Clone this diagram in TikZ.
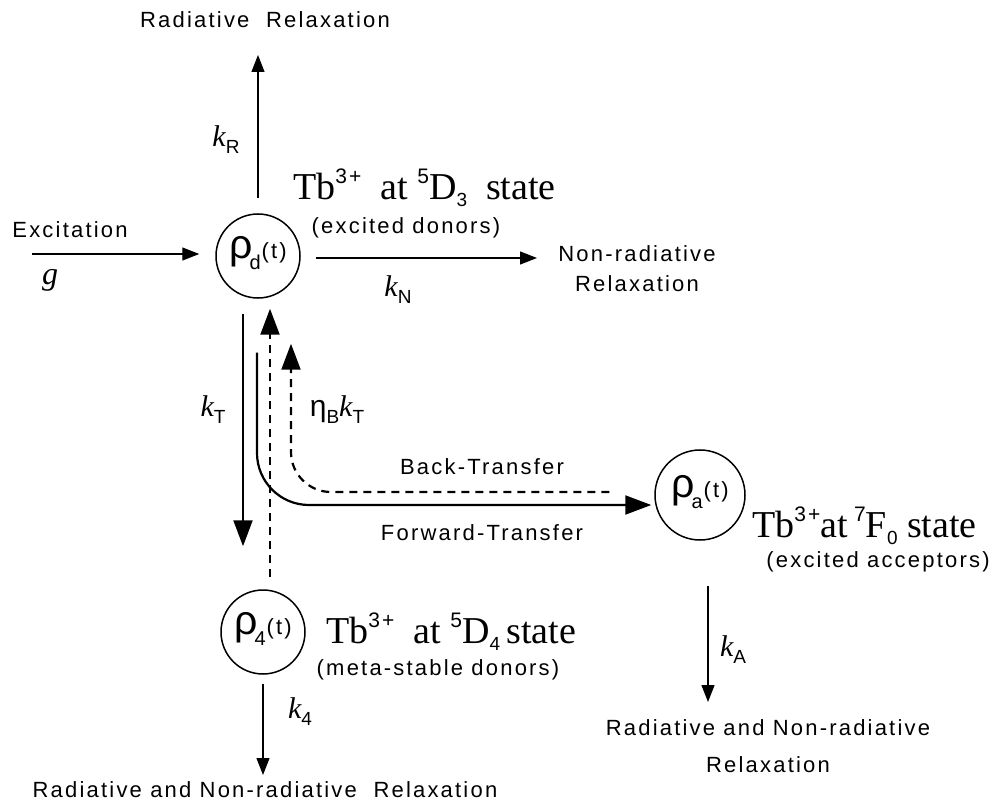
\documentclass[tikz,border=0pt]{standalone}
\usepackage{fontspec}
\setmainfont{Liberation Serif}
\newfontfamily\labfont[LetterSpace=10]{Liberation Sans}
\newfontfamily\scriptsans[LetterSpace=10]{Liberation Sans}
\newfontfamily\plainsans{Liberation Sans}
\usetikzlibrary{arrows.meta}
\newcommand\supx[1]{\raisebox{16pt}{\scriptsans\fontsize{21}{21}\selectfont #1}}
\newcommand\subx[1]{\raisebox{-7pt}{\scriptsans\fontsize{19}{19}\selectfont #1}}
\newcommand\ratek[1]{{\rmfamily\fontsize{30}{30}\selectfont\itshape k}\subx{#1}}
\newcommand\rhotxt[1]{\raisebox{-5pt}{\smash{\makebox[0pt]{{\plainsans\fontsize{41}{41}\selectfont ρ}\kern-3pt\raisebox{-11pt}{\plainsans\fontsize{20}{20}\selectfont #1}\kern1pt{\scriptsans\fontsize{22}{22}\selectfont (t)}}}}}
\begin{document}
\begin{tikzpicture}[x=1pt,y=-1pt,
 lbl/.style={font=\labfont\fontsize{22}{30}\selectfont, inner sep=0pt, align=center},
 serif/.style={font=\rmfamily\fontsize{38}{38}\selectfont, inner sep=0pt},
 statecirc/.style={circle, draw, line width=1.5pt, minimum size=84pt, inner sep=0pt},
 thinarr/.style={line width=1.3pt, -{Triangle[length=17pt,width=13pt]}},
 thickarr/.style={line width=2.2pt, -{Triangle[length=26pt,width=19pt]}},
 dasharr/.style={line width=2.2pt, dash pattern=on 8pt off 6pt, -{Triangle[length=26pt,width=19pt]}},
 rate/.style={inner sep=0pt}]
\useasboundingbox (0,0) rectangle (997,805);
% state circles
\node[statecirc] (d) at (258,256) {\rhotxt{d}};
\node[statecirc] (f) at (263,632) {\rhotxt{4}};
\node[statecirc, minimum size=90pt] (a) at (700,495) {\rhotxt{a}};
% labels
\node[lbl] (rad) at (265,20) {Radiative\ \ Relaxation};
\node[lbl] (exc) at (70,230) {Excitation};
\node[rate] (g) at (50,280) {\rmfamily\fontsize{32}{32}\selectfont\itshape g};
\node[rate] (kR) at (226,140) {\ratek{R}};
\node[serif, anchor=base west] (tbd) at (293,200) {Tb\supx{3+}\ \ at\ \supx{5}D\subx{3}\ \ state};
\node[lbl] (exd) at (406,228) {(excited donors)};
\node[lbl] (nrr) at (637,269) {Non-radiative\\Relaxation};
\node[rate] (kN) at (398,290) {\ratek{N}};
\node[rate] (kT) at (213,410) {\ratek{T}};
\node[rate] (eta) at (337,410) {{\plainsans\fontsize{30}{30}\selectfont η}\subx{B}\ratek{T}};
\node[lbl] (bt) at (482,467) {Back-Transfer};
\node[lbl] (ft) at (482,533) {Forward-Transfer};
\node[serif, anchor=base west] (tba) at (752,537) {Tb\supx{3+}at\,\supx{7}F\subx{0}\ state};
\node[lbl] (exa) at (878,562) {(excited acceptors)};
\node[serif, anchor=base west] (tb4) at (326,643) {Tb\supx{3+}\ \ at\ \supx{5}D\subx{4}\,state};
\node[lbl] (mets) at (438,670) {(meta-stable donors)};
\node[rate] (k4) at (300,712) {\ratek{4}};
\node[rate] (kA) at (733,650) {\ratek{A}};
\node[lbl] (rn4) at (265,790) {Radiative and Non-radiative\ \ Relaxation};
\node[lbl] (rna) at (768,746) {Radiative and Non-radiative\\[7pt]Relaxation};
% connectors
\coordinate (radtip) at (258,55);
\draw[thinarr] ([yshift=15pt]d.north) -- (radtip);
\coordinate (excs) at (32,254);
\draw[thinarr, shorten >=16pt] (excs) -- (excs -| d.west);
\coordinate (nrtip) at (537,258);
\draw[thinarr, shorten <=15pt] (nrtip -| d.east) -- (nrtip);
\draw[thickarr] ([xshift=-15pt,yshift=-15pt]d.south) -- ([xshift=-20pt,yshift=43pt]f.north);
\draw[dasharr] ([xshift=7pt,yshift=12pt]f.north) -- ([xshift=12pt,yshift=-10pt]d.south);
\draw[thickarr, rounded corners=52pt] ([xshift=-1pt,yshift=-54pt]d.south) |- ([xshift=-3pt,yshift=-10pt]a.west);
\draw[dasharr, rounded corners=40pt] ([xshift=-45pt,yshift=3pt]a.west) -| ([xshift=33pt,yshift=-45pt]d.south);
\coordinate (katip) at (708,702);
\draw[thinarr, shorten <=45pt] (katip |- a.south) -- (katip);
\coordinate (k4tip) at (263,775);
\draw[thinarr, shorten <=9pt] (f.south) -- (k4tip);
\end{tikzpicture}
\end{document}
